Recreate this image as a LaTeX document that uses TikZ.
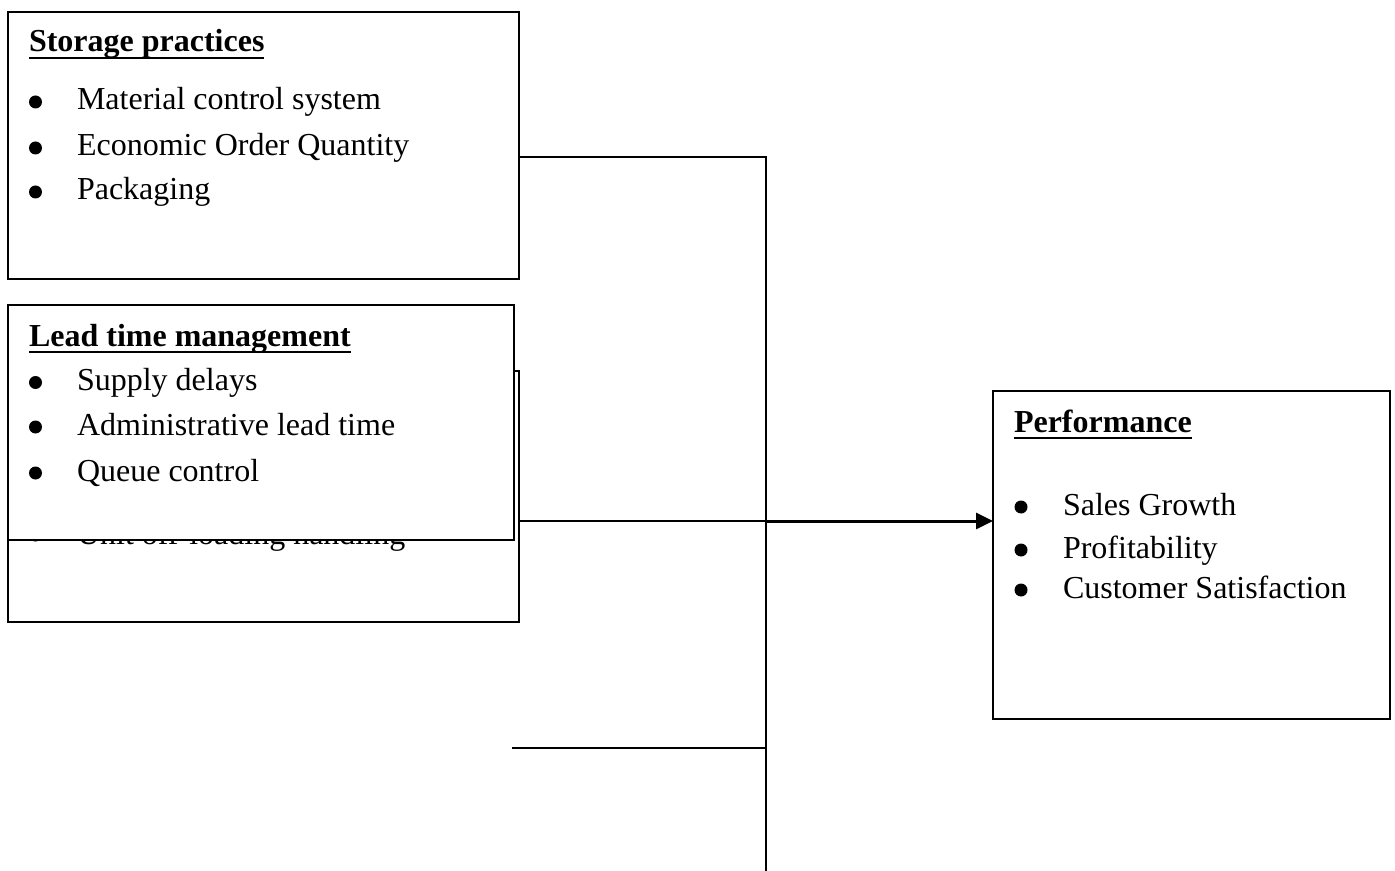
\documentclass[tikz,border=0pt]{standalone}
\usepackage{fontspec}
\setmainfont{Liberation Serif}
\usetikzlibrary{arrows.meta}
\begin{document}
\begin{tikzpicture}[x=0.5pt,y=-0.5pt,
  every node/.style={inner sep=0pt,outer sep=0pt,font=\fontsize{16}{19}\selectfont},
  box/.style={draw,line width=0.8pt,fill=white},
  txt/.style={anchor=base west},
  bul/.style={circle,fill=black,minimum size=6.5pt,yshift=4pt},
  hd/.style={anchor=base west,font=\fontsize{16}{19}\selectfont\bfseries},
  uline/.style={line width=1pt},
  conn/.style={line width=0.8pt}]
\useasboundingbox[fill=white] (0,0) rectangle (1395,871);

% Storage practices
\node[box,minimum width=255.5pt,minimum height=133.5pt] (sp) at (263.5,145.5) {};
\node[hd] (sph) at (29,52) {Storage practices};
\draw[uline] ([yshift=-3pt]sph.base west) -- ([yshift=-3pt]sph.base east);
\node[bul] (sb1) at (35.5,110) {};
\node[txt] (st1) at (77,110) {Material control system};
\node[bul] (sb2) at (35.5,156) {};
\node[txt] (st2) at (77,156) {Economic Order Quantity};
\node[bul] (sb3) at (35.5,200) {};
\node[txt] (st3) at (77,200) {Packaging};

% hidden back box
\node[box,minimum width=255.5pt,minimum height=125.5pt] (bk) at (263.5,496.5) {};
\node[bul] (bb1) at (35.5,543) {};
\node[txt] (bt1) at (77,544) {Unit off-loading handling};

% Lead time management
\node[box,minimum width=253pt,minimum height=117.5pt] (lt) at (261,422.5) {};
\node[hd] (lth) at (29,346) {Lead time management};
\draw[uline] ([yshift=-3pt]lth.base west) -- ([yshift=-3pt]lth.base east);
\node[bul] (lb1) at (35.5,390.5) {};
\node[txt] (lt1) at (77,390.5) {Supply delays};
\node[bul] (lb2) at (35.5,435) {};
\node[txt] (lt2) at (77,435) {Administrative lead time};
\node[bul] (lb3) at (35.5,481) {};
\node[txt] (lt3) at (77,481) {Queue control};

% Performance
\node[box,minimum width=198.5pt,minimum height=164pt] (pf) at (1191.5,555) {};
\node[hd] (pfh) at (1014,432) {Performance};
\draw[uline] ([yshift=-3pt]pfh.base west) -- ([yshift=-3pt]pfh.base east);
\node[bul] (pb1) at (1021,515) {};
\node[txt] (pt1) at (1063,515) {Sales Growth};
\node[bul] (pb2) at (1021,558) {};
\node[txt] (pt2) at (1063,558) {Profitability};
\node[bul] (pb3) at (1021,598) {};
\node[txt] (pt3) at (1063,598) {Customer Satisfaction};

% connectors
\coordinate (j1) at (766,157);
\coordinate (j2) at (766,521);
\coordinate (j3) at (766,748);
\coordinate (vb) at (766,871);
\coordinate (l3) at (512,748);
\draw[conn] (sp.east |- j1) -- (j1) -- (vb);
\draw[conn] (bk.east |- j2) -- (j2);
\draw[line width=1.5pt,-{Triangle[length=8.5pt,width=8pt]}] (j2) -- (pf.west |- j2);
\draw[conn] (l3) -- (j3);
\end{tikzpicture}
\end{document}
